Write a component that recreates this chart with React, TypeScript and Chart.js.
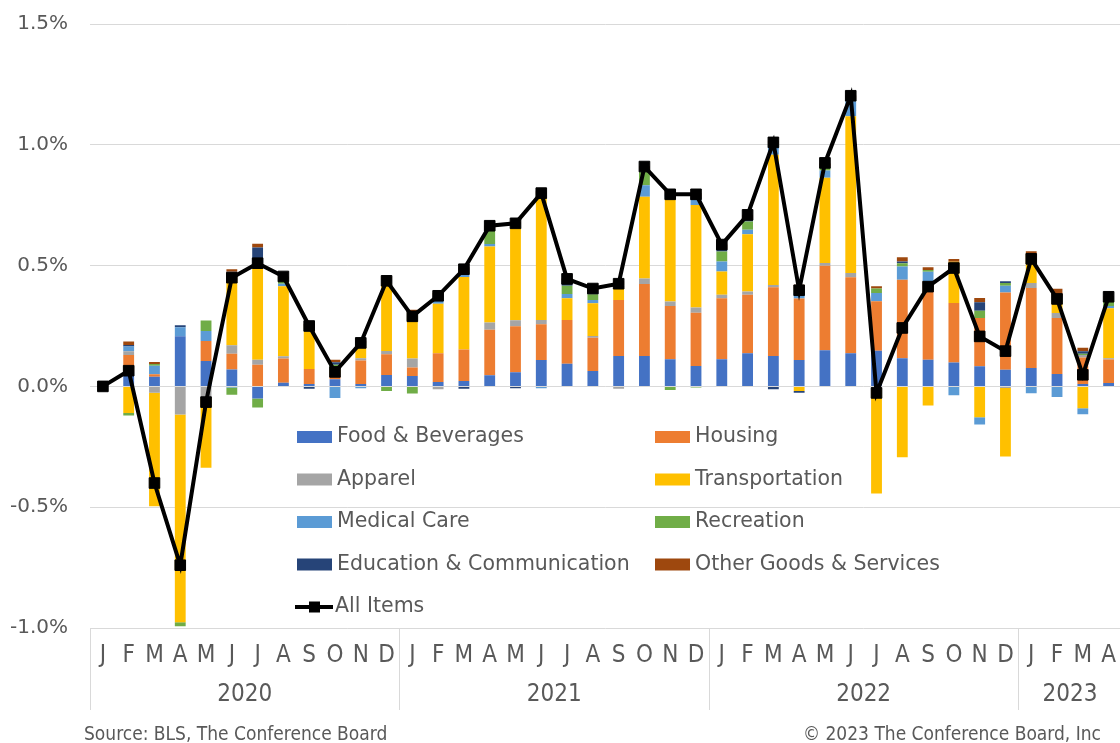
import React, { useEffect, useRef } from 'react';
import { Chart, registerables } from 'chart.js';

Chart.register(...registerables);

const monthLabels = [
  'J', 'F', 'M', 'A', 'M', 'J', 'J', 'A', 'S', 'O', 'N', 'D',
  'J', 'F', 'M', 'A', 'M', 'J', 'J', 'A', 'S', 'O', 'N', 'D',
  'J', 'F', 'M', 'A', 'M', 'J', 'J', 'A', 'S', 'O', 'N', 'D',
  'J', 'F', 'M', 'A',
];
const yearLabels = ['2020', '2021', '2022', '2023'];
const yearSpans = [12, 12, 12, 4];

const food = [
  0, 0.06, 0.04, 0.208, 0.105, 0.07, -0.05, 0.015, 0.01, 0.03, 0.01, 0.047,
  0.043, 0.018, 0.022, 0.046, 0.059, 0.109, 0.094, 0.064, 0.126, 0.126, 0.112, 0.084,
  0.112, 0.137, 0.126, 0.109, 0.15, 0.137, 0.148, 0.117, 0.11, 0.099, 0.083, 0.069,
  0.076, 0.051, 0.01, 0.014,
];
const housing = [
  0, 0.07, 0.01, 0, 0.083, 0.065, 0.09, 0.1, 0.062, 0.02, 0.097, 0.086,
  0.035, 0.119, 0.131, 0.188, 0.19, 0.148, 0.181, 0.137, 0.232, 0.298, 0.221, 0.221,
  0.253, 0.242, 0.284, 0.255, 0.349, 0.315, 0.204, 0.324, 0.324, 0.246, 0.2, 0.32,
  0.331, 0.232, 0.11, 0.097,
];
const apparel = [
  0, 0.015, -0.026, -0.116, -0.047, 0.035, 0.02, 0.01, 0, 0, 0.01, 0.014,
  0.037, -0.012, 0, 0.03, 0.025, 0.018, 0, 0.008, -0.01, 0.023, 0.018, 0.022,
  0.014, 0.014, 0.01, 0, 0.012, 0.017, -0.008, 0, 0, 0, 0, -0.007,
  0.021, 0.021, 0.01, 0.005,
];
const transportation = [
  0, -0.11, -0.47, -0.86, -0.29, 0.3, 0.4, 0.29, 0.156, 0.02, 0.052, 0.28,
  0.19, 0.205, 0.3, 0.315, 0.385, 0.51, 0.09, 0.135, 0.05, 0.338, 0.425, 0.424,
  0.097, 0.237, 0.539, -0.019, 0.353, 0.649, -0.435, -0.293, -0.079, 0.171, -0.128, -0.283,
  0.121, 0.045, -0.09, 0.207,
];
const medical = [
  0, 0.02, 0.035, 0.037, 0.041, -0.005, 0.01, 0.01, 0.01, -0.048, -0.008, 0.01,
  0, 0.021, 0.01, 0.01, 0.008, -0.008, 0.017, 0.014, 0, 0.048, 0.011, 0.021,
  0.041, 0.018, 0.035, 0.025, 0.03, 0.062, 0.035, 0.055, 0.041, -0.037, -0.03, 0.028,
  -0.028, -0.044, -0.025, 0.01,
];
const recreation = [
  0, -0.01, 0.008, -0.017, 0.044, -0.03, -0.037, 0.02, 0.01, 0.02, 0.01, -0.019,
  -0.029, 0.007, 0.018, 0.055, 0.005, 0.01, 0.035, 0.023, 0, 0.055, -0.015, -0.005,
  0.041, 0.035, 0.01, 0.015, 0.01, 0.008, 0.018, 0.014, 0.007, 0, 0.03, 0.011,
  0, 0.015, 0.005, 0.035,
];
const education = [
  0, 0.006, 0, 0.008, 0, 0.005, 0.055, 0, -0.01, 0.01, 0, 0.005,
  0, 0.005, -0.01, 0.01, -0.008, 0, 0.02, 0.014, 0.01, 0.01, 0.01, 0.012,
  0.012, 0.01, -0.012, -0.007, 0.005, 0.003, 0, 0.007, 0, 0, 0.035, 0.007,
  0, 0.005, 0.01, 0,
];
const otherGoods = [
  0, 0.015, 0.008, 0, 0, 0.01, 0.015, 0.01, 0.01, 0.01, 0.01, 0.012,
  0.012, 0.012, 0.012, 0.012, 0.01, 0.013, 0.01, 0.012, 0.017, 0.013, 0.012, 0.015,
  0.017, 0.017, 0.013, 0.017, 0.014, 0.013, 0.01, 0.018, 0.011, 0.011, 0.018, 0,
  0.01, 0.035, 0.015, 0.005,
];
const allItems = [
  0, 0.065, -0.4, -0.74, -0.065, 0.45, 0.51, 0.455, 0.25, 0.06, 0.18, 0.437,
  0.29, 0.375, 0.485, 0.665, 0.675, 0.8, 0.445, 0.405, 0.425, 0.91, 0.795, 0.795,
  0.587, 0.71, 1.01, 0.398, 0.925, 1.203, -0.027, 0.242, 0.413, 0.49, 0.207, 0.146,
  0.528, 0.362, 0.048, 0.371,
];

const seriesNames = [
  'Food & Beverages', 'Housing', 'Apparel', 'Transportation',
  'Medical Care', 'Recreation', 'Education & Communication', 'Other Goods & Services',
];
const seriesColors = ['#4472C4', '#ED7D31', '#A5A5A5', '#FFC000', '#5B9BD5', '#70AD47', '#264478', '#9E480E'];
const yTicks = [-1.0, -0.5, 0, 0.5, 1.0, 1.5];

const TEXT = '#595959';
const GRID = '#d9d9d9';
const SANS = '"DejaVu Sans", sans-serif';
const NARROW = '"Liberation Sans Narrow", "DejaVu Sans Condensed", sans-serif';

const xAxisPlugin = {
  id: 'multiLevelX',
  afterDraw(chart: any) {
    const { ctx, chartArea } = chart;
    const x = chart.scales.x;
    const half = (x.getPixelForValue(1) - x.getPixelForValue(0)) / 2;
    const bottom = chartArea.bottom;
    ctx.save();
    ctx.strokeStyle = GRID;
    ctx.lineWidth = 1;
    ctx.fillStyle = TEXT;
    ctx.textAlign = 'center';
    ctx.textBaseline = 'middle';
    ctx.font = `24px ${NARROW}`;
    monthLabels.forEach((m, i) => {
      ctx.fillText(m, x.getPixelForValue(i), bottom + 28);
    });
    let idx = 0;
    yearSpans.forEach((span, i) => {
      const left = Math.round(x.getPixelForValue(idx) - half) + 0.5;
      ctx.beginPath();
      ctx.moveTo(left, bottom);
      ctx.lineTo(left, bottom + 82);
      ctx.stroke();
      const c = (x.getPixelForValue(idx) + x.getPixelForValue(idx + span - 1)) / 2;
      ctx.fillText(yearLabels[i], c, bottom + 67);
      idx += span;
    });
    ctx.font = `19px ${NARROW}`;
    ctx.textAlign = 'left';
    ctx.fillText('Source: BLS, The Conference Board', 84, 735);
    ctx.textAlign = 'right';
    ctx.fillText('\u00A9 2023 The Conference Board, Inc', 1101, 735);
    ctx.restore();
  },
};

const legendPlugin = {
  id: 'insideLegend',
  afterDraw(chart: any) {
    const { ctx, chartArea } = chart;
    const col = [chartArea.left + 207, chartArea.left + 565];
    const rowY = (r: number) => 437 + r * 42.5;
    ctx.save();
    ctx.font = `20.5px ${SANS}`;
    ctx.textAlign = 'left';
    ctx.textBaseline = 'middle';
    seriesNames.forEach((name, i) => {
      const cx = col[i % 2];
      const cy = rowY(Math.floor(i / 2));
      ctx.fillStyle = seriesColors[i];
      ctx.fillRect(cx, cy - 6, 35, 12);
      ctx.fillStyle = TEXT;
      ctx.fillText(name, cx + 40, cy);
    });
    const ly = rowY(4);
    ctx.strokeStyle = '#000';
    ctx.lineWidth = 4;
    ctx.beginPath();
    ctx.moveTo(col[0] - 2, ly);
    ctx.lineTo(col[0] + 36, ly);
    ctx.stroke();
    ctx.fillStyle = '#000';
    ctx.fillRect(col[0] + 12, ly - 5.5, 11, 11);
    ctx.fillStyle = TEXT;
    ctx.fillText('All Items', col[0] + 38, ly);
    ctx.restore();
  },
};

export default function App() {
  const canvasRef = useRef<HTMLCanvasElement | null>(null);

  useEffect(() => {
    const canvas = canvasRef.current;
    if (!canvas) return;
    const seriesData = [food, housing, apparel, transportation, medical, recreation, education, otherGoods];
    const barSets = seriesNames.map((name, i) => ({
      type: 'bar' as const,
      label: name,
      data: seriesData[i],
      backgroundColor: seriesColors[i],
      borderWidth: 0,
      barPercentage: 0.42,
      categoryPercentage: 1,
      stack: 'components',
      order: 1,
    }));
    const chart = new Chart(canvas, {
      type: 'bar',
      data: {
        labels: monthLabels.map((m, i) => `${m}-${i}`),
        datasets: [
          ...barSets,
          {
            type: 'line' as const,
            label: 'All Items',
            data: allItems,
            borderColor: '#000',
            backgroundColor: '#000',
            borderWidth: 4,
            pointStyle: 'rect',
            pointRadius: 7.5,
            pointBackgroundColor: '#000',
            pointBorderColor: '#000',
            pointBorderWidth: 1,
            tension: 0,
            stack: 'line',
            order: 0,
          } as any,
        ],
      },
      options: {
        responsive: false,
        animation: false,
        devicePixelRatio: 1,
        layout: { padding: { top: 24, bottom: 115, left: 0, right: 6 } },
        plugins: {
          legend: { display: false },
          tooltip: { enabled: false },
        },
        scales: {
          x: {
            display: false,
            stacked: true,
            offset: true,
          },
          y: {
            stacked: true,
            min: -1.0,
            max: 1.5,
            afterFit: (scale: any) => {
              scale.width = 90;
              scale.paddingTop = 0;
              scale.paddingBottom = 0;
            },
            afterBuildTicks: (scale: any) => { scale.ticks = yTicks.map((v) => ({ value: v })); },
            border: { display: false },
            grid: { color: GRID, lineWidth: 1, drawTicks: false },
            ticks: {
              padding: 22,
              color: TEXT,
              font: { family: SANS, size: 20 },
              callback: (v: any) => `${Number(v).toFixed(1)}%`,
            },
          },
        },
      },
      plugins: [xAxisPlugin, legendPlugin],
    });
    return () => chart.destroy();
  }, []);

  return (
    <div style={{ position: 'fixed', left: 0, top: 0, width: 1120, height: 743, overflow: 'hidden', background: '#fff' }}>
      <canvas ref={canvasRef} width={1130} height={743} style={{ display: 'block' }} />
    </div>
  );
}
